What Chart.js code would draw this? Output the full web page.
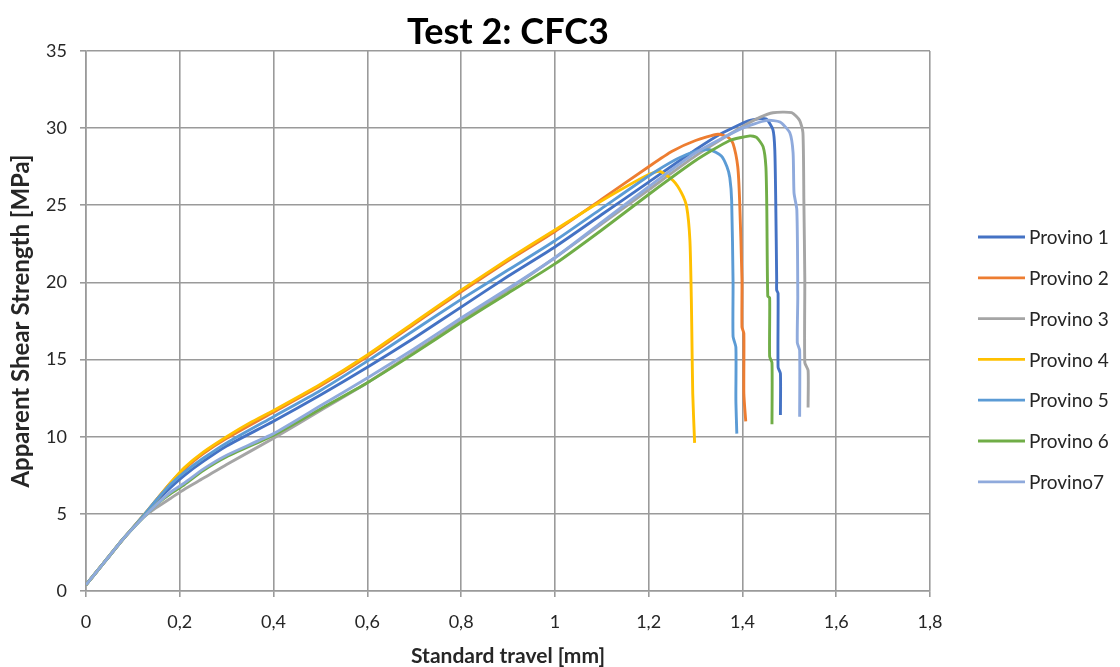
<!DOCTYPE html>
<html>
<head>
<meta charset="utf-8">
<title>Test 2: CFC3</title>
<script src="https://cdn.jsdelivr.net/npm/chart.js@4.4.1/dist/chart.umd.min.js"></script>
<style>
  html, body { margin: 0; padding: 0; background: #fff; }
  #wrap { width: 1120px; height: 667px; position: relative; }
</style>
</head>
<body>
<div id="wrap"><canvas id="chart" width="1120" height="667"></canvas></div>
<script>
// Travel [mm] / apparent shear strength [MPa] for each specimen
const provino1X = [0, 0.04, 0.08, 0.12, 0.15, 0.18, 0.21, 0.25, 0.3, 0.4, 0.5, 0.6, 0.7, 0.8, 0.9, 1.0, 1.1, 1.2, 1.3, 1.358, 1.416, 1.45, 1.465, 1.469, 1.471, 1.473, 1.473, 1.476, 1.476, 1.481, 1.481];
const provino1Y = [0.4, 1.9, 3.4, 4.8, 5.8, 6.7, 7.5, 8.4, 9.4, 11.0, 12.7, 14.5, 16.4, 18.4, 20.4, 22.3, 24.4, 26.5, 28.6, 29.7, 30.5, 30.6, 29.9, 28.6, 25.3, 20.2, 19.5, 19.3, 14.5, 14.1, 11.4];

const provino2X = [0, 0.04, 0.08, 0.12, 0.15, 0.18, 0.21, 0.25, 0.3, 0.4, 0.5, 0.6, 0.7, 0.8, 0.9, 1.0, 1.1, 1.2, 1.25, 1.3, 1.348, 1.37, 1.38, 1.39, 1.394, 1.399, 1.399, 1.403, 1.403, 1.407];
const provino2Y = [0.4, 1.9, 3.4, 4.8, 5.9, 7.0, 7.9, 8.9, 9.9, 11.6, 13.3, 15.2, 17.3, 19.4, 21.4, 23.3, 25.4, 27.5, 28.5, 29.2, 29.6, 29.4, 29.0, 27.5, 25.3, 20.2, 17.1, 16.7, 12.8, 11.0];

const provino3X = [0, 0.04, 0.08, 0.12, 0.15, 0.18, 0.21, 0.25, 0.3, 0.4, 0.5, 0.6, 0.7, 0.8, 0.9, 1.0, 1.1, 1.2, 1.3, 1.4, 1.437, 1.465, 1.505, 1.522, 1.529, 1.531, 1.533, 1.533, 1.54, 1.54];
const provino3Y = [0.4, 1.9, 3.4, 4.7, 5.4, 6.0, 6.6, 7.3, 8.2, 9.9, 11.7, 13.5, 15.5, 17.5, 19.5, 21.6, 23.8, 26.0, 28.2, 30.1, 30.7, 31.0, 31.0, 30.5, 29.7, 25.3, 20.2, 14.8, 14.3, 11.9];

const provino4X = [0, 0.04, 0.08, 0.12, 0.15, 0.18, 0.21, 0.25, 0.3, 0.35, 0.4, 0.5, 0.6, 0.7, 0.8, 0.9, 1.0, 1.1, 1.2, 1.224, 1.252, 1.27, 1.281, 1.288, 1.291, 1.292, 1.294, 1.298];
const provino4Y = [0.4, 1.9, 3.4, 4.8, 5.9, 7.0, 8.0, 9.0, 10.0, 10.9, 11.7, 13.4, 15.3, 17.4, 19.5, 21.5, 23.4, 25.3, 27.0, 27.2, 26.6, 25.8, 24.9, 22.7, 18.9, 16.9, 12.8, 9.6];

const provino5X = [0, 0.04, 0.08, 0.12, 0.15, 0.18, 0.21, 0.25, 0.3, 0.4, 0.5, 0.6, 0.7, 0.8, 0.9, 1.0, 1.1, 1.2, 1.26, 1.3, 1.33, 1.355, 1.367, 1.373, 1.377, 1.38, 1.38, 1.386, 1.386, 1.388];
const provino5Y = [0.4, 1.9, 3.4, 4.8, 5.9, 6.9, 7.7, 8.6, 9.6, 11.3, 13.0, 14.9, 16.9, 18.9, 20.8, 22.7, 24.8, 26.9, 28.0, 28.5, 28.6, 28.2, 27.5, 26.8, 25.3, 20.0, 16.5, 15.8, 12.4, 10.2];

const provino6X = [0, 0.04, 0.08, 0.12, 0.15, 0.18, 0.21, 0.25, 0.3, 0.4, 0.5, 0.6, 0.7, 0.8, 0.9, 1.0, 1.1, 1.2, 1.3, 1.373, 1.416, 1.43, 1.444, 1.45, 1.452, 1.454, 1.458, 1.458, 1.463, 1.463];
const provino6Y = [0.4, 1.9, 3.4, 4.7, 5.6, 6.3, 6.9, 7.8, 8.7, 10.1, 11.8, 13.5, 15.4, 17.4, 19.3, 21.2, 23.4, 25.7, 27.9, 29.2, 29.5, 29.4, 28.8, 27.5, 24.7, 19.1, 19.0, 15.2, 14.8, 10.8];

const provino7X = [0, 0.04, 0.08, 0.12, 0.15, 0.18, 0.21, 0.25, 0.3, 0.4, 0.5, 0.6, 0.7, 0.8, 0.9, 1.0, 1.1, 1.2, 1.3, 1.4, 1.452, 1.48, 1.501, 1.508, 1.51, 1.516, 1.518, 1.517, 1.522, 1.522];
const provino7Y = [0.4, 1.9, 3.4, 4.7, 5.6, 6.4, 7.0, 7.9, 8.8, 10.2, 12.0, 13.8, 15.7, 17.7, 19.6, 21.6, 23.9, 26.2, 28.4, 30.0, 30.5, 30.4, 29.7, 28.4, 25.8, 24.7, 19.1, 16.1, 15.6, 11.3];

const seriesNames = ['Provino 1', 'Provino 2', 'Provino 3', 'Provino 4', 'Provino 5', 'Provino 6', 'Provino7'];
const seriesX = [provino1X, provino2X, provino3X, provino4X, provino5X, provino6X, provino7X];
const seriesY = [provino1Y, provino2Y, provino3Y, provino4Y, provino5Y, provino6Y, provino7Y];
const seriesColors = ['#4472C4', '#ED7D31', '#A5A5A5', '#FFC000', '#5B9BD5', '#70AD47', '#8FAADC'];

// Axis ranges and ticks
const xMin = 0, xMax = 1.8, xStep = 0.2;
const yMin = 0, yMax = 35, yStep = 5;

const FONT = 'Lato, "Open Sans", sans-serif';

const datasets = seriesNames.map((name, i) => ({
  label: name,
  data: seriesX[i].map((x, k) => ({ x: x, y: seriesY[i][k] })),
  borderColor: seriesColors[i],
  backgroundColor: seriesColors[i],
  borderWidth: 2.9,
  pointRadius: 0,
  showLine: true,
  tension: 0.2,
  order: seriesNames.length - i   // later specimens are painted on top
}));

// Legend drawn at the right of the plot
const sideLegend = {
  id: 'sideLegend',
  afterDraw(chart) {
    const ctx = chart.ctx;
    ctx.save();
    ctx.font = '19px ' + FONT;
    ctx.textBaseline = 'middle';
    ctx.textAlign = 'left';
    chart.data.datasets.forEach((ds, i) => {
      const y = 237 + i * 40.8;
      ctx.strokeStyle = ds.borderColor;
      ctx.lineWidth = 2.8;
      ctx.beginPath();
      ctx.moveTo(978, y);
      ctx.lineTo(1025, y);
      ctx.stroke();
      ctx.fillStyle = '#262626';
      ctx.fillText(ds.label, 1029, y + 1);
    });
    ctx.restore();
  }
};

const gridColor = '#9a9a9a';

new Chart(document.getElementById('chart'), {
  type: 'scatter',
  data: { datasets: datasets },
  plugins: [sideLegend],
  options: {
    responsive: false,
    animation: false,
    layout: { padding: { left: 0, right: 190, top: 0, bottom: 0 } },
    plugins: {
      legend: { display: false },
      tooltip: { enabled: false },
      title: {
        display: true,
        text: 'Test 2: CFC3',
        fullSize: false,
        color: '#000',
        font: { family: FONT, size: 36, weight: 'bold', lineHeight: 1 },
        padding: { top: 14, bottom: 1 }
      }
    },
    scales: {
      x: {
        type: 'linear',
        min: xMin, max: xMax,
        afterFit(scale) { scale.height = 76; },
        ticks: {
          stepSize: xStep,
          padding: 14,
          color: '#262626',
          font: { family: FONT, size: 18 },
          callback: v => String(Math.round(v * 10) / 10).replace('.', ',')
        },
        grid: { color: gridColor, lineWidth: 1.6, tickLength: 6, tickColor: gridColor },
        border: { color: gridColor, width: 1.6 },
        title: {
          display: true,
          text: 'Standard travel [mm]',
          color: '#262626',
          font: { family: FONT, size: 21, weight: 'bold', lineHeight: 1 },
          padding: { top: 0, bottom: 0 }
        }
      },
      y: {
        type: 'linear',
        min: yMin, max: yMax,
        afterFit(scale) { scale.width = 86; },
        ticks: {
          stepSize: yStep,
          padding: 13,
          color: '#262626',
          font: { family: FONT, size: 18 }
        },
        grid: { color: gridColor, lineWidth: 1.6, tickLength: 6, tickColor: gridColor },
        border: { color: gridColor, width: 1.6 },
        title: {
          display: true,
          text: 'Apparent Shear Strength [MPa]',
          color: '#262626',
          font: { family: FONT, size: 24, weight: 'bold', lineHeight: 1 },
          padding: { top: 9, bottom: 0 }
        }
      }
    }
  }
});
</script>
</body>
</html>
